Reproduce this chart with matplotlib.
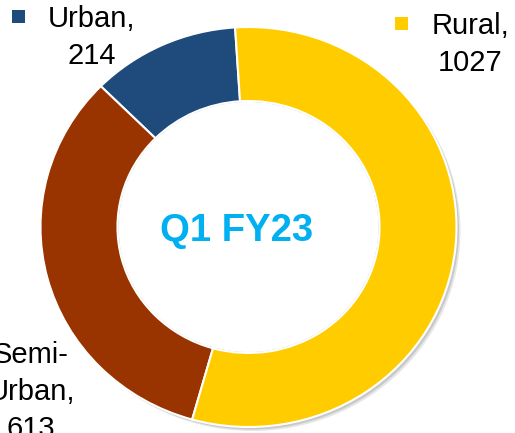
import matplotlib
matplotlib.use("Agg")
import matplotlib.pyplot as plt
from matplotlib.patches import Rectangle, Ellipse
from matplotlib.transforms import IdentityTransform

# branch counts by area, Q1 FY23
areas = ["Urban", "Semi-\nUrban", "Rural"]
counts = [214, 613, 1027]
colors = ["#1F4A7C", "#993300", "#FFCC00"]
title = "Q1 FY23"

W, H = 515, 433
fig = plt.figure(figsize=(W / 100, H / 100), dpi=100)
fig.patch.set_facecolor("white")

# donut centre / radii in pixels (slightly wider than tall, like the source)
cx, cy, rx, ry = 248.5, 227, 208, 200
ax = fig.add_axes([0, 0, 1, 1])

# soft drop shadow behind the ring
for off, col in [(4, "#e6e6e6"), (2.5, "#c8c8c8")]:
    ax.add_patch(Ellipse((off / rx, -off / ry), 2, 2, color=col, lw=0, zorder=0))

wedges, _ = ax.pie(counts, colors=colors, startangle=93.7, counterclock=True,
                   radius=1, wedgeprops=dict(width=0.37, edgecolor="white", linewidth=1.5))
# hole on top so the shadow does not show through
ax.add_patch(Ellipse((0, 0), 2 * 0.63 - 0.01, 2 * 0.63 - 0.01, color="white", lw=0, zorder=5))
ax.set_aspect("auto")
ax.set_xlim(-cx / rx, (W - cx) / rx)
ax.set_ylim(-(H - cy) / ry, cy / ry)
ax.axis("off")


def fx(x, y):
    return x / W, 1 - y / H


fs = 21
font = "Liberation Sans"

# label positions (centre x, first baseline y) and marker squares, in pixels
label_pos = [(91.5, 27), (31, 363), (470, 34)]
marker_pos = [(18.5, 16.5), None, (401.5, 23.5)]
pitch = 37
for name, val, col, (lx, ly), mp in zip(areas, counts, colors, label_pos, marker_pos):
    lines = (name + ",").split("\n") + [str(val)]
    for i, ln in enumerate(lines):
        fig.text(*fx(lx, ly + i * pitch), ln, ha="center", va="baseline",
                 fontsize=fs, family=font, color="black")
    if mp is not None:
        s = 13.5
        fig.add_artist(Rectangle((mp[0] - s / 2, H - mp[1] - s / 2), s, s,
                                 transform=IdentityTransform(), color=col, lw=0))

fig.text(*fx(236.5, 231), title, ha="center", va="center", fontsize=27.5,
         fontweight="bold", family=font, color="#00B0F0", zorder=10)

fig.savefig("out.png", dpi=100)
